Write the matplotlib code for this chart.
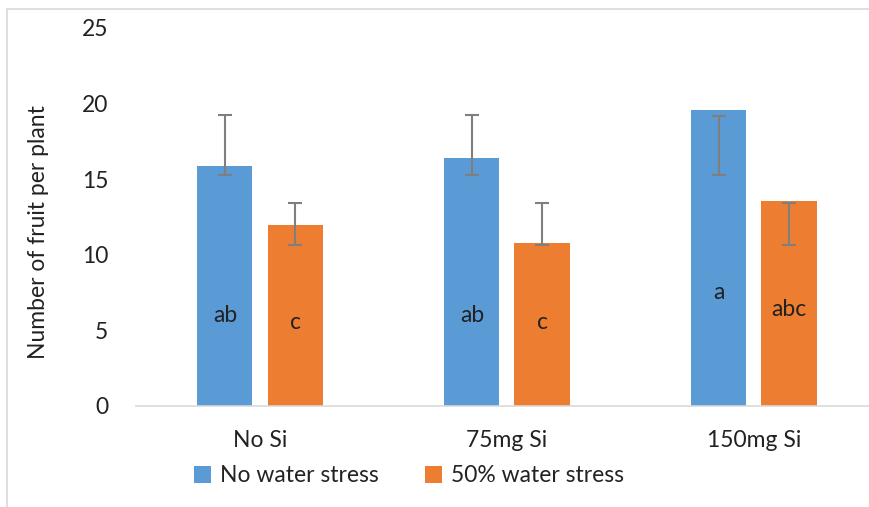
import matplotlib.pyplot as plt
import numpy as np

plt.rcParams['font.family'] = ['Lato', 'DejaVu Sans']

# values
groups = ['No Si', '75mg Si', '150mg Si']
series = ['No water stress', '50% water stress']
no_stress = [15.87, 16.4, 19.58]
stress = [11.97, 10.78, 13.56]
# error bar ends (low, high) as drawn
no_stress_err_low = [15.28, 15.28, 15.28]
no_stress_err_high = [19.25, 19.25, 19.2]
stress_err_low = [10.65, 10.65, 10.65]
stress_err_high = [13.43, 13.43, 13.43]
# significance letters and their heights
no_stress_letters = ['ab', 'ab', 'a']
stress_letters = ['c', 'c', 'abc']
no_stress_letter_y = [6.0, 6.0, 7.5]
stress_letter_y = [5.5, 5.5, 6.35]

blue = '#5b9bd5'
orange = '#ed7d31'
grey = '#7f7f7f'
txt = '#222222'
fs = 16.5

W, H = 870, 507
fig = plt.figure(figsize=(W / 100, H / 100), dpi=100)
ax = fig.add_axes([136 / W, 1 - 406 / H, (870 - 136) / W, (406 - 28) / H])

x = np.arange(len(groups))
bw = 0.223
off = 0.142

ax.bar(x - off, no_stress, bw, color=blue, label=series[0])
ax.bar(x + off, stress, bw, color=orange, label=series[1])

for xs, lo, hi in [(x - off, no_stress_err_low, no_stress_err_high),
                   (x + off, stress_err_low, stress_err_high)]:
    lo = np.array(lo)
    hi = np.array(hi)
    mid = (lo + hi) / 2
    ax.errorbar(xs, mid, yerr=(hi - lo) / 2, fmt='none', ecolor=grey,
                elinewidth=1.5, capsize=5, capthick=1.5)

for i in range(len(groups)):
    ax.text(x[i] - off, no_stress_letter_y[i], no_stress_letters[i],
            ha='center', va='center', fontsize=fs, color=txt)
    ax.text(x[i] + off, stress_letter_y[i], stress_letters[i],
            ha='center', va='center', fontsize=fs, color=txt)

ax.set_xlim(-0.502, 2.470)
ax.set_ylim(0, 25)
ax.set_yticks([0, 5, 10, 15, 20, 25])
ax.set_xticks(x)
ax.set_xticklabels(groups)
ax.tick_params(axis='both', length=0, labelsize=fs, colors=txt)
ax.tick_params(axis='x', pad=17)
ax.tick_params(axis='y', pad=20)
for s in ['top', 'right', 'left']:
    ax.spines[s].set_visible(False)
ax.spines['bottom'].set_color('#d9d9d9')
ax.spines['bottom'].set_linewidth(1.2)
ax.set_ylabel('Number of fruit per plant', fontsize=fs, color=txt)
ax.yaxis.set_label_coords(-0.118, 0.46)

leg = fig.legend(loc='center', bbox_to_anchor=(409 / W, 1 - 476 / H), ncol=2,
                 frameon=False, fontsize=fs, handlelength=0.75, handleheight=0.75,
                 columnspacing=2.0, handletextpad=0.4)
for t in leg.get_texts():
    t.set_color(txt)

# outer chart border
fig.patches.append(plt.Rectangle((7.5 / W, -0.1), 1.2, 1 - 9 / H + 0.1,
                                 transform=fig.transFigure, fill=False,
                                 edgecolor='#d9d9d9', linewidth=1.2))

fig.savefig('out.png', dpi=100)
